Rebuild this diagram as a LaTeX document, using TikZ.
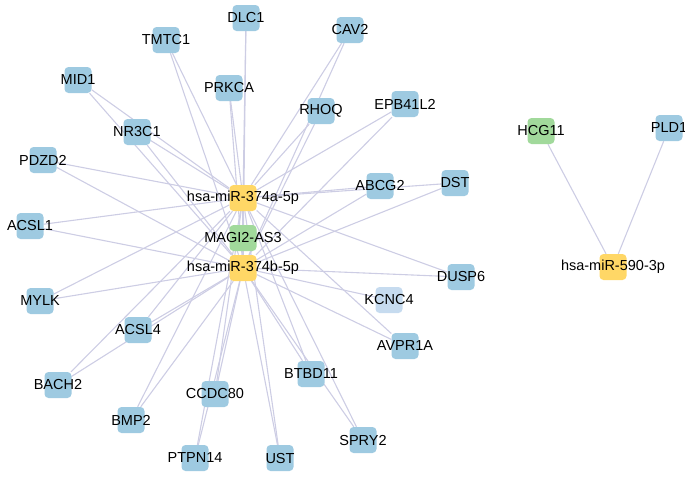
\documentclass[tikz,border=0pt]{standalone}
\usepackage{fontspec}
\setmainfont{Liberation Sans}
\usetikzlibrary{backgrounds}
\definecolor{gene_blue}{RGB}{158, 202, 225}
\definecolor{mirna}{RGB}{255, 215, 102}
\definecolor{lnc}{RGB}{161, 217, 155}
\definecolor{pale_blue}{RGB}{198, 219, 239}
\definecolor{edge_gray}{RGB}{205, 205, 228}

\begin{document}
\begin{tikzpicture}[
    x=1pt, y=-1pt,
    box/.style={
        rectangle,
        draw=none,
        fill=#1,
        minimum width=27pt,
        minimum height=26pt,
        rounded corners=4pt
    },
    lbl/.style={
        font=\fontsize{14.5}{16}\selectfont,
        text=black,
        inner sep=0pt
    },
    link/.style={
        draw=edge_gray,
        line width=1.1pt
    }
]
\useasboundingbox (0,0) rectangle (685,477);

% Position the nodes
\foreach \name/\x/\y/\col/\txt in {
    dlc/246/18/gene_blue/DLC1, cav/350/30/gene_blue/CAV2,
    tmtc/166/40/gene_blue/TMTC1, mid/78/80/gene_blue/MID1,
    prkca/229/88/gene_blue/PRKCA, rhoq/321/111/gene_blue/RHOQ,
    epb/405/104/gene_blue/EPB41L2, nr/137/132/gene_blue/NR3C1,
    hcg/541/131/lnc/HCG11, pld/669/128/gene_blue/PLD1,
    pdzd/43/160/gene_blue/PDZD2, mira/243/198/mirna/hsa-miR-374a-5p,
    abcg/380/186/gene_blue/ABCG2, dst/455/183/gene_blue/DST,
    acslone/30/226/gene_blue/ACSL1, magi/243/238/lnc/MAGI2-AS3,
    mirb/243/268/mirna/hsa-miR-374b-5p, dusp/461/277/gene_blue/DUSP6,
    mirc/613/267/mirna/hsa-miR-590-3p, kcnc/389/300/pale_blue/KCNC4,
    mylk/40/301/gene_blue/MYLK, acslfour/138/330/gene_blue/ACSL4,
    avpr/405/346/gene_blue/AVPR1A, btbd/311/374/gene_blue/BTBD11,
    bach/58/385/gene_blue/BACH2, ccdc/215/394/gene_blue/CCDC80,
    bmp/131/420/gene_blue/BMP2, spry/363/440/gene_blue/SPRY2,
    ptpn/195/458/gene_blue/PTPN14, ust/280/458/gene_blue/UST}
{
    \node[box=\col] (\name) at (\x,\y) {};
    \node[lbl] (\name-t) at (\x,\y) {\txt};
}

% Draw the links
\begin{pgfonlayer}{background}
\foreach \t in {dlc,cav,tmtc,mid,prkca,rhoq,epb,nr,pdzd,abcg,dst,acslone,
    dusp,mylk,acslfour,avpr,btbd,bach,ccdc,bmp,spry,ptpn,ust}
{
    \draw[link] (mira) -- (\t);
    \draw[link] (mirb) -- (\t);
}
\draw[link] (mira) -- (magi);
\draw[link] (mirb) -- (magi);
\draw[link] (mirb) -- (kcnc);
\draw[link] (mirc) -- (hcg);
\draw[link] (mirc) -- (pld);
\end{pgfonlayer}

\end{tikzpicture}
\end{document}
